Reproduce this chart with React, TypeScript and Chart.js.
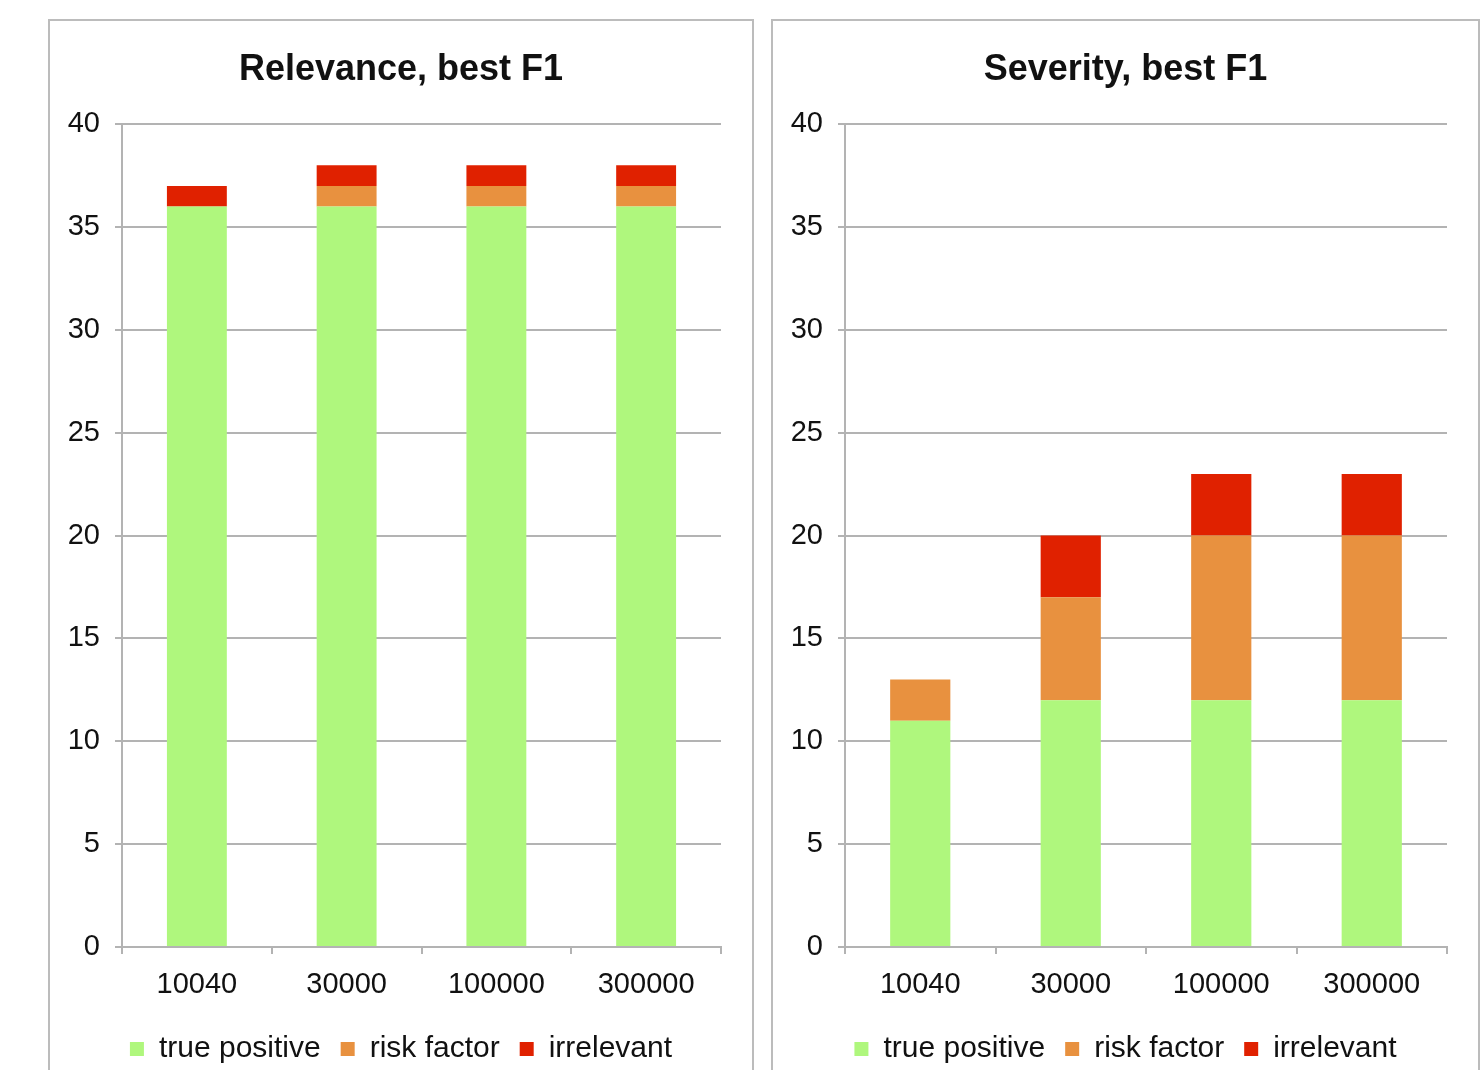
import React, { useEffect, useRef } from "react";
import { Chart, registerables } from "chart.js";
Chart.register(...registerables);

const categories = ["10040", "30000", "100000", "300000"];
const seriesLabels = ["true positive", "risk factor", "irrelevant"];
const seriesColors = ["#AFF77D", "#E8913F", "#E02100"];

const relevanceTruePositive = [36, 36, 36, 36];
const relevanceRiskFactor = [0, 1, 1, 1];
const relevanceIrrelevant = [1, 1, 1, 1];

const severityTruePositive = [11, 12, 12, 12];
const severityRiskFactor = [2, 5, 8, 8];
const severityIrrelevant = [0, 3, 3, 3];

const yMin = 0;
const yMax = 40;
const yStep = 5;

const FONT = "'Liberation Sans', Arial, Helvetica, sans-serif";
const GRID = "#b3b3b3";
const TEXT = "#111111";

type PanelProps = {
  title: string;
  series: number[][];
  left: number;
  width: number;
};

function Panel({ title, series, left, width }: PanelProps) {
  const ref = useRef<HTMLCanvasElement | null>(null);
  const innerW = width - 4;
  const innerH = 1053;

  useEffect(() => {
    if (!ref.current) return;
    const chart = new Chart(ref.current, {
      type: "bar",
      data: {
        labels: categories,
        datasets: series.map((vals, i) => ({
          label: seriesLabels[i],
          data: vals,
          backgroundColor: seriesColors[i],
          borderWidth: 0,
          categoryPercentage: 1,
          barPercentage: 0.4,
          yAxisID: "y",
        })),
      },
      options: {
        animation: false,
        responsive: false,
        maintainAspectRatio: false,
        layout: { padding: { left: 0, right: 0, top: 0, bottom: 0 } },
        plugins: {
          tooltip: { enabled: false },
          title: {
            display: true,
            text: title,
            color: TEXT,
            font: { family: FONT, size: 36, weight: "bold", lineHeight: 1.2 },
            padding: { top: 27, bottom: 33 },
          },
          legend: {
            display: true,
            position: "bottom",
            labels: {
              color: TEXT,
              font: { family: FONT, size: 30 },
              boxWidth: 14,
              boxHeight: 14,
              padding: 20,
            },
          },
        },
        scales: {
          x: {
            stacked: true,
            afterFit: (scale: any) => {
              scale.height = 67;
            },
            grid: {
              display: true,
              drawOnChartArea: false,
              drawTicks: true,
              tickLength: 7,
              color: GRID,
              lineWidth: 2,
              offset: true,
            },
            border: { display: true, color: GRID, width: 2 },
            ticks: {
              color: TEXT,
              font: { family: FONT, size: 29 },
              padding: 14,
              maxRotation: 0,
            },
          },
          y: {
            stacked: true,
            position: "left",
            min: yMin,
            max: yMax,
            afterFit: (scale: any) => {
              scale.width = 72;
            },
            grid: {
              color: GRID,
              lineWidth: 2,
              drawTicks: true,
              tickLength: 7,
            },
            border: { display: true, color: GRID, width: 2 },
            ticks: {
              stepSize: yStep,
              color: TEXT,
              font: { family: FONT, size: 29 },
              padding: 15,
            },
          },
          yRightSpacer: {
            type: "linear",
            position: "right",
            display: true,
            min: yMin,
            max: yMax,
            afterFit: (scale: any) => {
              scale.width = 31;
            },
            grid: { display: false, drawTicks: false },
            border: { display: false },
            ticks: { display: false },
          },
        },
      },
    });
    return () => chart.destroy();
  }, []);

  return (
    <div
      style={{
        position: "absolute",
        left,
        top: 19,
        width,
        height: 1060,
        boxSizing: "border-box",
        borderTop: "2px solid #bcbcbc",
        borderLeft: "2px solid #bcbcbc",
        borderRight: "2px solid #bcbcbc",
        background: "#fff",
        overflow: "hidden",
      }}
    >
      <canvas ref={ref} width={innerW} height={innerH} style={{ display: "block", width: innerW, height: innerH }} />
    </div>
  );
}

export default function App() {
  return (
    <div style={{ position: "absolute", left: 0, top: 0, width: 1484, height: 1070, overflow: "hidden", background: "#fff" }}>
      <Panel
        title="Relevance, best F1"
        series={[relevanceTruePositive, relevanceRiskFactor, relevanceIrrelevant]}
        left={48}
        width={706}
      />
      <Panel
        title="Severity, best F1"
        series={[severityTruePositive, severityRiskFactor, severityIrrelevant]}
        left={771}
        width={709}
      />
    </div>
  );
}
